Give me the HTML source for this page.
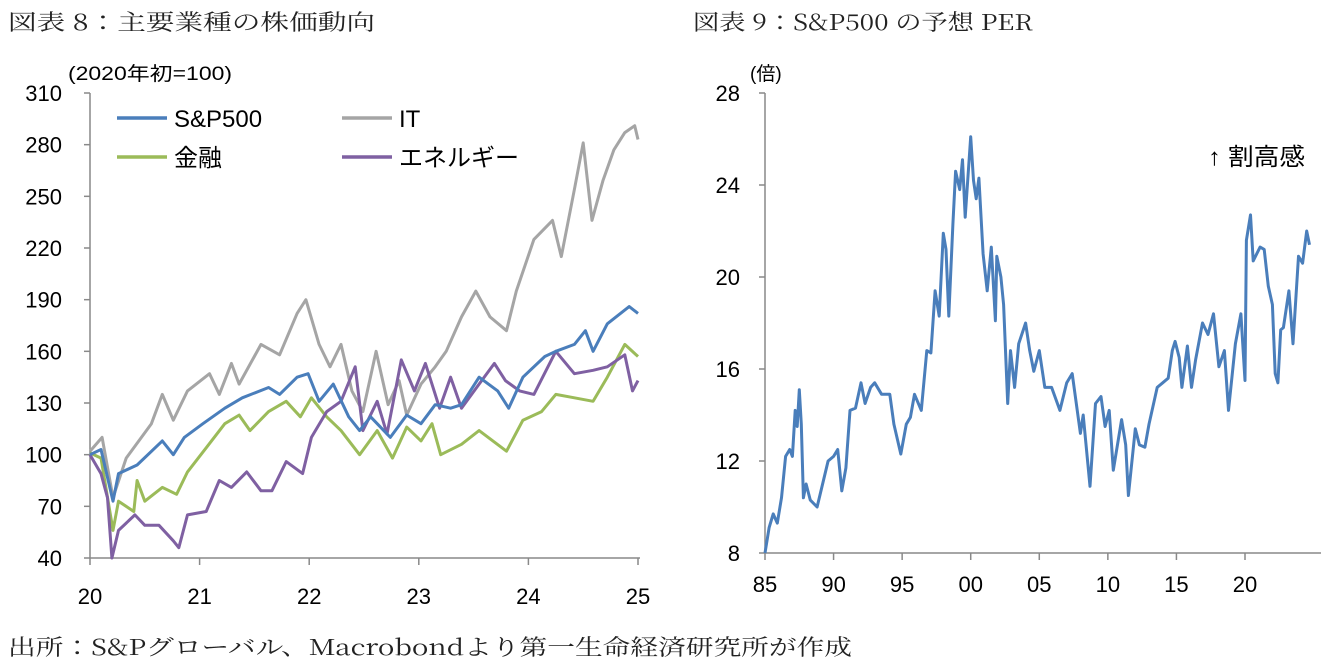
<!DOCTYPE html>
<html><head><meta charset="utf-8"><style>
body{margin:0;background:#fff;width:1329px;height:665px;overflow:hidden}
svg{display:block}
.t{font-family:"Noto Serif CJK JP","Liberation Serif",serif;font-size:22px;fill:#222}
.k{font-family:"Liberation Sans","Noto Sans CJK JP",sans-serif;font-size:22px;fill:#000}
.s{font-family:"Liberation Sans","Noto Sans CJK JP",sans-serif;font-size:19px;fill:#000}
</style></head><body>
<svg id="svg" width="1329" height="665">
<text class="t" x="8" y="30" textLength="367" lengthAdjust="spacingAndGlyphs">図表 8：主要業種の株価動向</text>
<text class="t" x="693" y="30" textLength="340" lengthAdjust="spacingAndGlyphs">図表 9：S&amp;P500 の予想 PER</text>
<text class="s" x="68" y="80" textLength="164" lengthAdjust="spacingAndGlyphs">(2020年初=100)</text>
<text class="s" x="750" y="80">(倍)</text>
<text class="k" x="1208" y="165" style="font-size:24px" textLength="97" lengthAdjust="spacingAndGlyphs">↑ 割高感</text>
<text class="t" x="8" y="655" textLength="844" lengthAdjust="spacingAndGlyphs">出所：S&amp;Pグローバル、Macrobondより第一生命経済研究所が作成</text>
<g id="L"></g>
<g id="R"></g>
</svg>
<script>
const sectorNames=["S&P500","IT","金融","エネルギー"];
const spT=[2020,2020.1,2020.21,2020.26,2020.43,2020.66,2020.76,2020.86,2021.03,2021.23,2021.39,2021.63,2021.73,2021.89,2021.99,2022.09,2022.22,2022.36,2022.46,2022.56,2022.74,2022.89,2023.02,2023.15,2023.29,2023.39,2023.55,2023.72,2023.82,2023.95,2024.15,2024.25,2024.42,2024.52,2024.59,2024.72,2024.92,2025];
const spV=[100,103,73,89,94,108,100,110,118,127,133,139,135,145,147,131,141,122,114,122,110,123,118,129,127,129,145,137,127,145,157,160,164,172,160,176,186,182];
const itT=[2020,2020.11,2020.21,2020.33,2020.56,2020.66,2020.76,2020.89,2021.09,2021.18,2021.29,2021.36,2021.56,2021.73,2021.89,2021.97,2022.09,2022.19,2022.29,2022.39,2022.49,2022.61,2022.72,2022.82,2022.89,2023.02,2023.15,2023.25,2023.39,2023.52,2023.65,2023.8,2023.89,2024.05,2024.22,2024.3,2024.42,2024.5,2024.58,2024.68,2024.78,2024.88,2024.97,2025];
const itV=[102,110,75,98,118,135,120,137,147,135,153,141,164,158,182,190,164,151,164,137,125,160,129,143,123,141,151,160,180,195,180,172,195,225,236,215,254,281,236,259,277,287,291,283];
const finT=[2020,2020.1,2020.21,2020.26,2020.4,2020.43,2020.5,2020.66,2020.79,2020.89,2021.06,2021.23,2021.36,2021.46,2021.63,2021.79,2021.92,2022.02,2022.16,2022.29,2022.46,2022.62,2022.76,2022.89,2023.02,2023.12,2023.2,2023.39,2023.55,2023.8,2023.95,2024.12,2024.25,2024.42,2024.59,2024.72,2024.88,2025];
const finV=[101,98,56,73,67,85,73,81,77,90,104,118,123,114,125,131,122,133,122,114,100,114,98,116,108,118,100,106,114,102,120,125,135,133,131,145,164,157];
const enT=[2020,2020.1,2020.16,2020.2,2020.26,2020.41,2020.5,2020.63,2020.76,2020.81,2020.89,2021.06,2021.18,2021.29,2021.43,2021.56,2021.66,2021.79,2021.94,2022.02,2022.16,2022.29,2022.42,2022.49,2022.62,2022.71,2022.84,2022.96,2023.06,2023.19,2023.29,2023.39,2023.55,2023.69,2023.79,2023.92,2024.05,2024.25,2024.42,2024.59,2024.72,2024.88,2024.95,2025];
const enV=[100,89,75,40,56,65,59,59,50,46,65,67,85,81,90,79,79,96,89,110,125,131,151,114,131,112,155,137,153,127,145,127,141,153,143,137,135,160,147,149,151,158,137,143];
const leftYTicks=[40,70,100,130,160,190,220,250,280,310];
const leftXTicks=[2020,2021,2022,2023,2024,2025];
const leftXLabels=["20","21","22","23","24","25"];
const perT=[1985,1985.3,1985.6,1985.9,1986.2,1986.5,1986.8,1987,1987.2,1987.35,1987.5,1987.65,1987.8,1988,1988.3,1988.8,1989.2,1989.6,1990,1990.3,1990.6,1990.9,1991.2,1991.6,1992,1992.3,1992.7,1993,1993.5,1994.1,1994.4,1994.9,1995.3,1995.6,1995.9,1996.4,1996.8,1997.1,1997.4,1997.7,1998,1998.2,1998.4,1998.7,1998.9,1999.2,1999.4,1999.6,2000,2000.2,2000.4,2000.6,2000.9,2001.2,2001.5,2001.8,2001.9,2002.2,2002.4,2002.7,2002.9,2003.2,2003.5,2004,2004.3,2004.6,2005,2005.4,2005.9,2006.5,2007,2007.4,2008,2008.2,2008.7,2009.1,2009.5,2009.8,2010.1,2010.4,2011,2011.3,2011.5,2012,2012.3,2012.7,2013,2013.6,2014,2014.4,2014.7,2014.9,2015.2,2015.4,2015.8,2016.1,2016.4,2016.9,2017.3,2017.7,2018.1,2018.5,2018.8,2019.3,2019.7,2020,2020.1,2020.4,2020.6,2021.1,2021.4,2021.7,2022,2022.2,2022.4,2022.6,2022.8,2023.2,2023.5,2023.9,2024.2,2024.5,2024.7];
const perV=[8.0,9.1,9.7,9.3,10.4,12.2,12.5,12.2,14.2,13.5,15.1,13.6,10.4,11.0,10.3,10.0,11.0,12.0,12.2,12.5,10.7,11.7,14.2,14.3,15.4,14.5,15.2,15.4,14.9,14.9,13.6,12.3,13.6,13.9,14.9,14.2,16.8,16.7,19.4,18.3,21.9,21.2,18.3,22.3,24.6,23.8,25.1,22.6,26.1,24.2,23.4,24.3,21.0,19.4,21.3,18.1,20.9,20.0,18.8,14.5,16.8,15.2,17.1,18.0,16.8,15.9,16.8,15.2,15.2,14.2,15.4,15.8,13.2,14.0,10.9,14.5,14.8,13.5,14.2,11.6,13.8,12.7,10.5,13.4,12.7,12.6,13.6,15.2,15.4,15.6,16.8,17.2,16.5,15.2,17.0,15.2,16.4,18.0,17.5,18.4,16.1,16.8,14.2,17.1,18.4,15.5,21.6,22.7,20.7,21.3,21.2,19.6,18.8,15.8,15.4,17.7,17.8,19.4,17.1,20.9,20.6,22.0,21.4];
const rightYTicks=[8,12,16,20,24,28];
const rightXTicks=[1985,1990,1995,2000,2005,2010,2015,2020];
const rightXLabels=["85","90","95","00","05","10","15","20"];

const NS="http://www.w3.org/2000/svg";
function mk(p,tag,at){const e=document.createElementNS(NS,tag);for(const k in at)e.setAttribute(k,at[k]);p.appendChild(e);return e;}
const ax="#898989";
const L=document.getElementById('L');
const lx=t=>90+(t-2020)/5*548, ly=v=>558-(v-40)/270*465;
let e;
e=mk(L,'line',{x1:90,y1:93,x2:90,y2:558,stroke:ax,'stroke-width':1.5});

e=mk(L,'line',{x1:90,y1:558,x2:640,y2:558,stroke:ax,'stroke-width':1.5});

leftYTicks.forEach(v=>{mk(L,'line',{x1:84,x2:90,y1:ly(v),y2:ly(v),stroke:ax,'stroke-width':1.5});
 e=mk(L,'text',{x:62,y:ly(v)+8,'text-anchor':'end',class:'k'});e.textContent=v;
 });
leftXTicks.forEach((t,i)=>{mk(L,'line',{x1:lx(t),x2:lx(t),y1:558,y2:565,stroke:ax,'stroke-width':1.5});
 e=mk(L,'text',{x:lx(t),y:604,'text-anchor':'middle',class:'k'});e.textContent=leftXLabels[i];
 });
const series=[[spT,spV,'#4a7ebb','sp500-line'],[itT,itV,'#a5a5a5','it-line'],[finT,finV,'#9bbb59','financials-line'],[enT,enV,'#7f60a2','energy-line']];
[1,2,3,0].forEach(i=>{const [T,V,c,n]=series[i];
 e=mk(L,'polyline',{points:T.map((t,j)=>lx(t).toFixed(1)+','+ly(V[j]).toFixed(1)).join(' '),fill:'none',stroke:c,'stroke-width':3,'stroke-linejoin':'round'});
 });
const leg=[[117,118,0],[342,118,1],[117,157,2],[342,157,3]];
leg.forEach(([x,y,i])=>{const g=mk(L,'g',{});
 
 mk(g,'line',{x1:x,x2:x+50,y1:y,y2:y,stroke:series[i][2],'stroke-width':3.5});
 const t=mk(g,'text',{x:x+57,y:y+9,class:'k',style:'font-size:24px'});t.textContent=sectorNames[i];});
const R=document.getElementById('R');
const rx=t=>765+(t-1985)/35*480, ry=v=>553-(v-8)/20*460;
e=mk(R,'line',{x1:765,y1:93,x2:765,y2:553,stroke:ax,'stroke-width':1.5});

e=mk(R,'line',{x1:765,y1:553,x2:1321,y2:553,stroke:ax,'stroke-width':1.5});

rightYTicks.forEach(v=>{mk(R,'line',{x1:759,x2:765,y1:ry(v),y2:ry(v),stroke:ax,'stroke-width':1.5});
 e=mk(R,'text',{x:740,y:ry(v)+8,'text-anchor':'end',class:'k'});e.textContent=v;
 });
rightXTicks.forEach((t,i)=>{mk(R,'line',{x1:rx(t),x2:rx(t),y1:553,y2:560,stroke:ax,'stroke-width':1.5});
 e=mk(R,'text',{x:rx(t),y:592,'text-anchor':'middle',class:'k'});e.textContent=rightXLabels[i];
 });
e=mk(R,'polyline',{points:perT.map((t,j)=>rx(t).toFixed(1)+','+ry(perV[j]).toFixed(1)).join(' '),fill:'none',stroke:'#4a7ebb','stroke-width':3,'stroke-linejoin':'round'});

</script>
</body></html>
